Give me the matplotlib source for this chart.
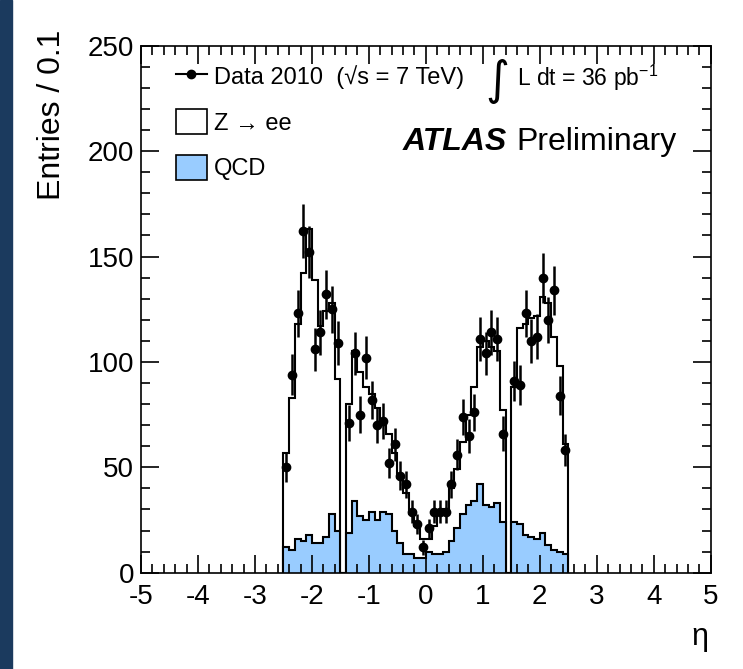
import numpy as np
import matplotlib.pyplot as plt
from matplotlib.lines import Line2D
from matplotlib.patches import Rectangle
from matplotlib.ticker import MultipleLocator

plt.rcParams['font.family'] = ['Liberation Sans', 'DejaVu Sans']
plt.rcParams['mathtext.fontset'] = 'custom'
plt.rcParams['mathtext.rm'] = 'Liberation Sans'
plt.rcParams['mathtext.it'] = 'Liberation Sans:italic'
plt.rcParams['axes.unicode_minus'] = False

# eta bins of 0.1 from -2.5 to 2.5 (crack bins have no entries)
edges = np.round(np.arange(-2.5, 2.51, 0.1), 2)

data = [50, 94, 123, 162, 152, 106, 114, 132, 125, 109,
        np.nan, 71, 104, 75, 102, 82, 70, 72, 52, 61,
        46, 42, 29, 23, 12, 21, 29, 29, 29, 42,
        56, 74, 65, 76, 111, 104, 114, 111, 66, np.nan,
        91, 89, 123, 110, 112, 140, 120, 134, 84, 58]

# Z->ee stacked on top of QCD (outline as drawn)
zee_stacked = [57, 83, 118, 142, 163, 139, 117, 124, 128, 92,
               0, 80, 105, 95, 88, 85, 78, 72, 66, 57,
               45, 38, 28, 22, 16, 16, 22, 29, 30, 40,
               49, 62, 75, 88, 107, 110, 107, 105, 77, 0,
               88, 116, 118, 121, 122, 131, 128, 112, 98, 61]

qcd = [12, 11, 16, 15, 18, 14, 14, 17, 28, 20,
       0, 19, 34, 27, 25, 29, 25, 29, 28, 20,
       14, 9, 9, 7, 7, 10, 9, 9, 10, 15,
       21, 28, 32, 34, 42, 32, 31, 33, 24, 0,
       24, 23, 18, 17, 16, 19, 13, 11, 10, 9]

W, H = 743, 669
fig = plt.figure(figsize=(W / 100, H / 100), dpi=100)
fig.patches.append(Rectangle((0, 0), 12 / W, 1, transform=fig.transFigure,
                             color='#1b3a5e', zorder=0))
ax = fig.add_axes([141 / W, 1 - 572.7 / H, 569.7 / W, 527 / H])

blue = '#99ccff'
ax.stairs(zee_stacked, edges, baseline=0, fill=True, facecolor='white',
          edgecolor='black', lw=1.5)
ax.stairs(qcd, edges, baseline=0, fill=True, facecolor=blue,
          edgecolor='black', lw=1.5)

centers = (edges[:-1] + edges[1:]) / 2
d = np.array(data, dtype=float)
ok = ~np.isnan(d)
ax.errorbar(centers[ok], d[ok], yerr=np.sqrt(d[ok]), fmt='o', color='black',
            ms=6, elinewidth=1.8, capsize=0, zorder=5)

ax.set_xlim(-5, 5)
ax.set_ylim(0, 250)
ax.xaxis.set_major_locator(MultipleLocator(1))
ax.xaxis.set_minor_locator(MultipleLocator(0.2))
ax.yaxis.set_major_locator(MultipleLocator(50))
ax.yaxis.set_minor_locator(MultipleLocator(10))
ax.tick_params(which='both', direction='in', top=True, right=True,
               labelsize=20, width=1.2)
ax.tick_params(which='major', length=13)
ax.tick_params(which='minor', length=6.5)
ax.tick_params(axis='x', pad=8)
ax.tick_params(axis='y', pad=5)
for s in ax.spines.values():
    s.set_linewidth(1.2)

handles = [Line2D([], [], color='black', marker='o', ms=6, lw=1.5),
           Rectangle((0, 0), 1, 1, facecolor='white', edgecolor='black', lw=1.2),
           Rectangle((0, 0), 1, 1, facecolor=blue, edgecolor='black', lw=1.2)]
labels = ['Data 2010  (√s = 7 TeV)', 'Z → ee', 'QCD']
fig.legend(handles, labels, loc='upper left',
           bbox_to_anchor=(176 / W, 1 - 64 / H), frameon=False,
           fontsize=17, borderpad=0, borderaxespad=0, handlelength=1.3,
           handleheight=1.25, handletextpad=0.3, labelspacing=0.85)

fig.text(497 / W, 1 - 82 / H, '∫', fontsize=33, family='DejaVu Sans',
         ha='center', va='center')
fig.text(517 / W, 1 - 78 / H, r'L dt = 36 pb$^{-1}$', fontsize=16.5,
         ha='left', va='center')
fig.text(403 / W, 1 - 142 / H, 'ATLAS', fontsize=23, fontweight='bold',
         fontstyle='italic', ha='left', va='center')
fig.text(516 / W, 1 - 142 / H, 'Preliminary', fontsize=23,
         ha='left', va='center')

fig.text(52 / W, 1 - 30 / H, 'Entries / 0.1', rotation=90, fontsize=23,
         ha='center', va='top')
fig.text(700 / W, 1 - 637 / H, 'η', fontsize=22, ha='center', va='center')

fig.savefig('out.png', dpi=100)
